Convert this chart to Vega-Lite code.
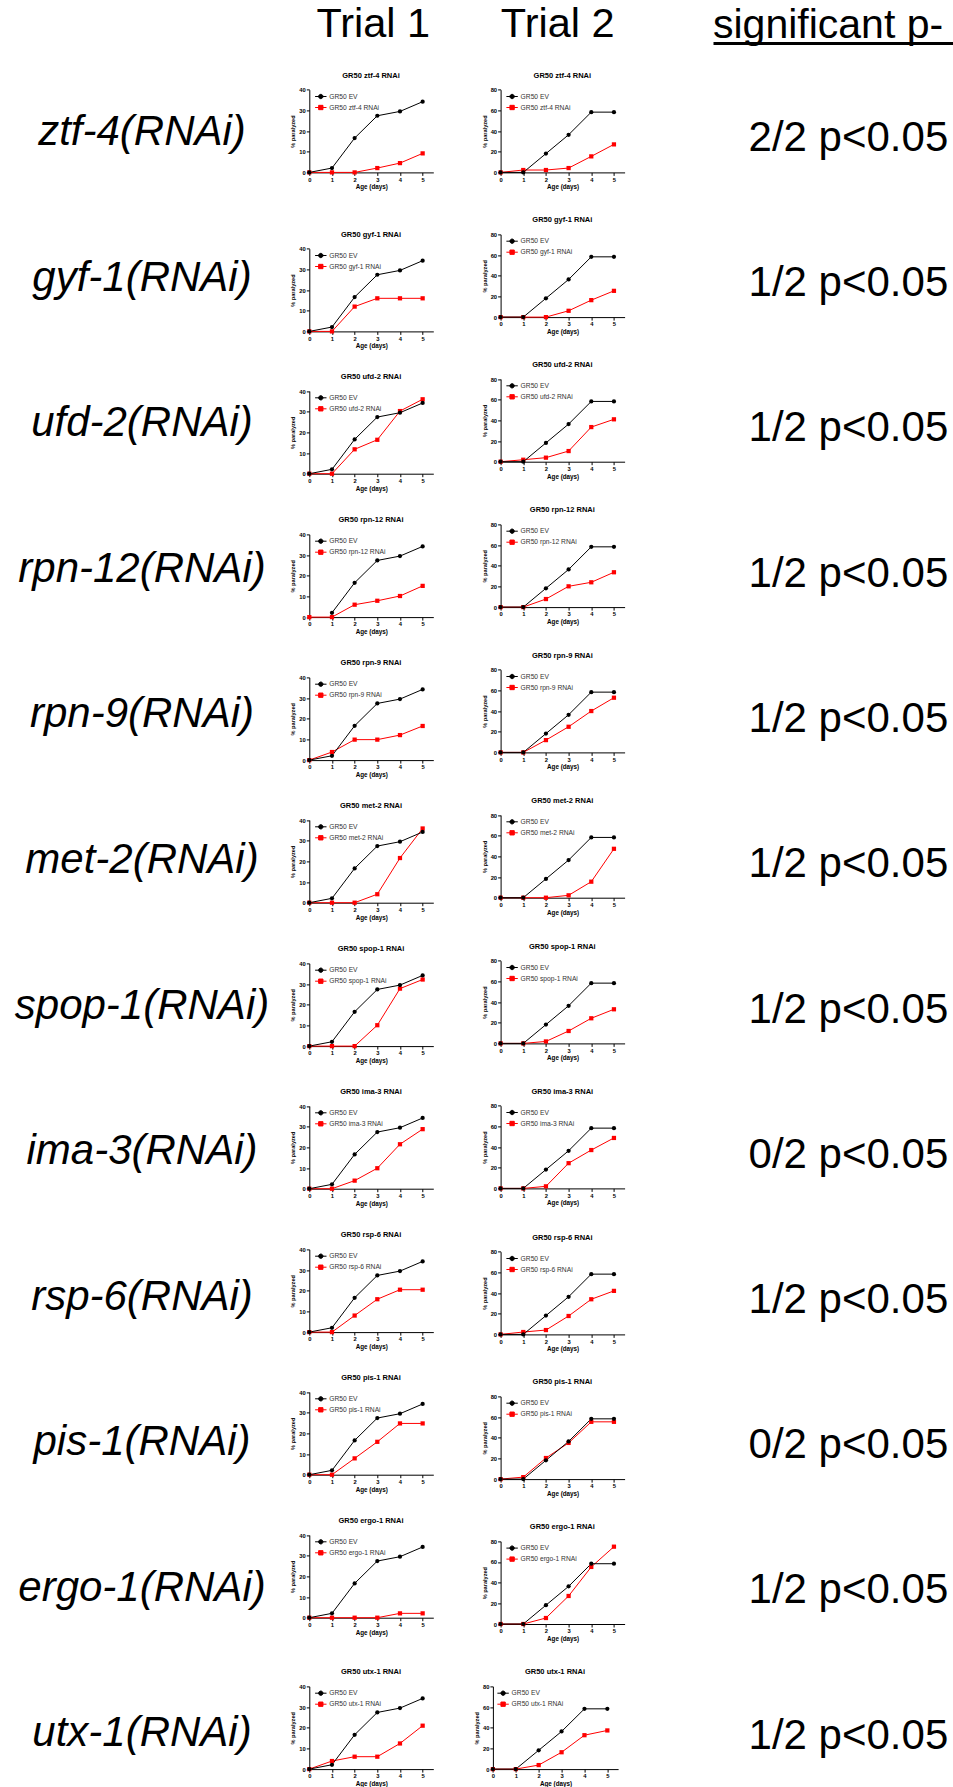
{
"$schema":"https://vega.github.io/schema/vega-lite/v6.json",
"padding":0,
"background":"white",
"config":{
 "view":{"stroke":null},
 "font":"Liberation Sans",
 "text":{"font":"Liberation Sans","fontSize":42,"color":"black"},
 "axis":{"labelFont":"Liberation Sans","titleFont":"Liberation Sans","labelFontSize":5.8,"labelFontWeight":"bold","labelColor":"black","tickSize":3,"tickColor":"black","tickWidth":1,"domainColor":"black","domainWidth":1,"grid":false,"titleFontWeight":"bold","titleColor":"black"},
 "axisX":{"titleFontSize":6.3,"titlePadding":2,"labelPadding":0.7,"labelFlush":false,"labelOverlap":false},
 "axisY":{"titleFontSize":5.6,"titlePadding":3,"labelPadding":1,"labelOverlap":false},
 "legend":{"orient":"none","padding":0,"rowPadding":0,"symbolSize":130,"labelFont":"Liberation Sans","labelFontSize":6.7,"labelColor":"#333333","labelOffset":2,"symbolStrokeWidth":1},
 "title":{"font":"Liberation Sans","fontSize":7.5,"fontWeight":"bold","color":"black","anchor":"middle","frame":"group","baseline":"alphabetic"}
},
"datasets":{"curves":[
{"gene":"ztf-4","trial":1,"series":"GR50 ztf-4 RNAi","day":0,"pct":0},{"gene":"ztf-4","trial":1,"series":"GR50 ztf-4 RNAi","day":1,"pct":0},{"gene":"ztf-4","trial":1,"series":"GR50 ztf-4 RNAi","day":2,"pct":0},{"gene":"ztf-4","trial":1,"series":"GR50 ztf-4 RNAi","day":3,"pct":2.1},{"gene":"ztf-4","trial":1,"series":"GR50 ztf-4 RNAi","day":4,"pct":4.5},{"gene":"ztf-4","trial":1,"series":"GR50 ztf-4 RNAi","day":5,"pct":9.2},
{"gene":"ztf-4","trial":1,"series":"GR50 EV","day":0,"pct":0},{"gene":"ztf-4","trial":1,"series":"GR50 EV","day":1,"pct":2.1},{"gene":"ztf-4","trial":1,"series":"GR50 EV","day":2,"pct":16.6},{"gene":"ztf-4","trial":1,"series":"GR50 EV","day":3,"pct":27.4},{"gene":"ztf-4","trial":1,"series":"GR50 EV","day":4,"pct":29.5},{"gene":"ztf-4","trial":1,"series":"GR50 EV","day":5,"pct":34.2},
{"gene":"ztf-4","trial":2,"series":"GR50 ztf-4 RNAi","day":0,"pct":0},{"gene":"ztf-4","trial":2,"series":"GR50 ztf-4 RNAi","day":1,"pct":2.3},{"gene":"ztf-4","trial":2,"series":"GR50 ztf-4 RNAi","day":2,"pct":2.3},{"gene":"ztf-4","trial":2,"series":"GR50 ztf-4 RNAi","day":3,"pct":4.2},{"gene":"ztf-4","trial":2,"series":"GR50 ztf-4 RNAi","day":4,"pct":15.5},{"gene":"ztf-4","trial":2,"series":"GR50 ztf-4 RNAi","day":5,"pct":27.1},
{"gene":"ztf-4","trial":2,"series":"GR50 EV","day":0,"pct":0},{"gene":"ztf-4","trial":2,"series":"GR50 EV","day":1,"pct":0},{"gene":"ztf-4","trial":2,"series":"GR50 EV","day":2,"pct":18.2},{"gene":"ztf-4","trial":2,"series":"GR50 EV","day":3,"pct":36.4},{"gene":"ztf-4","trial":2,"series":"GR50 EV","day":4,"pct":58.3},{"gene":"ztf-4","trial":2,"series":"GR50 EV","day":5,"pct":58.3},
{"gene":"gyf-1","trial":1,"series":"GR50 gyf-1 RNAi","day":0,"pct":0},{"gene":"gyf-1","trial":1,"series":"GR50 gyf-1 RNAi","day":1,"pct":0},{"gene":"gyf-1","trial":1,"series":"GR50 gyf-1 RNAi","day":2,"pct":12},{"gene":"gyf-1","trial":1,"series":"GR50 gyf-1 RNAi","day":3,"pct":16},{"gene":"gyf-1","trial":1,"series":"GR50 gyf-1 RNAi","day":4,"pct":16},{"gene":"gyf-1","trial":1,"series":"GR50 gyf-1 RNAi","day":5,"pct":16},
{"gene":"gyf-1","trial":1,"series":"GR50 EV","day":0,"pct":0},{"gene":"gyf-1","trial":1,"series":"GR50 EV","day":1,"pct":2.1},{"gene":"gyf-1","trial":1,"series":"GR50 EV","day":2,"pct":16.6},{"gene":"gyf-1","trial":1,"series":"GR50 EV","day":3,"pct":27.4},{"gene":"gyf-1","trial":1,"series":"GR50 EV","day":4,"pct":29.5},{"gene":"gyf-1","trial":1,"series":"GR50 EV","day":5,"pct":34.2},
{"gene":"gyf-1","trial":2,"series":"GR50 gyf-1 RNAi","day":0,"pct":0},{"gene":"gyf-1","trial":2,"series":"GR50 gyf-1 RNAi","day":1,"pct":0},{"gene":"gyf-1","trial":2,"series":"GR50 gyf-1 RNAi","day":2,"pct":0},{"gene":"gyf-1","trial":2,"series":"GR50 gyf-1 RNAi","day":3,"pct":6.1},{"gene":"gyf-1","trial":2,"series":"GR50 gyf-1 RNAi","day":4,"pct":16.4},{"gene":"gyf-1","trial":2,"series":"GR50 gyf-1 RNAi","day":5,"pct":25.4},
{"gene":"gyf-1","trial":2,"series":"GR50 EV","day":0,"pct":0},{"gene":"gyf-1","trial":2,"series":"GR50 EV","day":1,"pct":0},{"gene":"gyf-1","trial":2,"series":"GR50 EV","day":2,"pct":18.2},{"gene":"gyf-1","trial":2,"series":"GR50 EV","day":3,"pct":36.4},{"gene":"gyf-1","trial":2,"series":"GR50 EV","day":4,"pct":58.3},{"gene":"gyf-1","trial":2,"series":"GR50 EV","day":5,"pct":58.3},
{"gene":"ufd-2","trial":1,"series":"GR50 ufd-2 RNAi","day":0,"pct":0},{"gene":"ufd-2","trial":1,"series":"GR50 ufd-2 RNAi","day":1,"pct":0},{"gene":"ufd-2","trial":1,"series":"GR50 ufd-2 RNAi","day":2,"pct":11.8},{"gene":"ufd-2","trial":1,"series":"GR50 ufd-2 RNAi","day":3,"pct":16.4},{"gene":"ufd-2","trial":1,"series":"GR50 ufd-2 RNAi","day":4,"pct":30.3},{"gene":"ufd-2","trial":1,"series":"GR50 ufd-2 RNAi","day":5,"pct":36},
{"gene":"ufd-2","trial":1,"series":"GR50 EV","day":0,"pct":0},{"gene":"ufd-2","trial":1,"series":"GR50 EV","day":1,"pct":2.1},{"gene":"ufd-2","trial":1,"series":"GR50 EV","day":2,"pct":16.6},{"gene":"ufd-2","trial":1,"series":"GR50 EV","day":3,"pct":27.4},{"gene":"ufd-2","trial":1,"series":"GR50 EV","day":4,"pct":29.5},{"gene":"ufd-2","trial":1,"series":"GR50 EV","day":5,"pct":34.2},
{"gene":"ufd-2","trial":2,"series":"GR50 ufd-2 RNAi","day":0,"pct":0},{"gene":"ufd-2","trial":2,"series":"GR50 ufd-2 RNAi","day":1,"pct":1.9},{"gene":"ufd-2","trial":2,"series":"GR50 ufd-2 RNAi","day":2,"pct":3.9},{"gene":"ufd-2","trial":2,"series":"GR50 ufd-2 RNAi","day":3,"pct":10.3},{"gene":"ufd-2","trial":2,"series":"GR50 ufd-2 RNAi","day":4,"pct":33.5},{"gene":"ufd-2","trial":2,"series":"GR50 ufd-2 RNAi","day":5,"pct":41},
{"gene":"ufd-2","trial":2,"series":"GR50 EV","day":0,"pct":0},{"gene":"ufd-2","trial":2,"series":"GR50 EV","day":1,"pct":0},{"gene":"ufd-2","trial":2,"series":"GR50 EV","day":2,"pct":18.2},{"gene":"ufd-2","trial":2,"series":"GR50 EV","day":3,"pct":36.4},{"gene":"ufd-2","trial":2,"series":"GR50 EV","day":4,"pct":58.3},{"gene":"ufd-2","trial":2,"series":"GR50 EV","day":5,"pct":58.3},
{"gene":"rpn-12","trial":1,"series":"GR50 rpn-12 RNAi","day":0,"pct":0},{"gene":"rpn-12","trial":1,"series":"GR50 rpn-12 RNAi","day":1,"pct":0},{"gene":"rpn-12","trial":1,"series":"GR50 rpn-12 RNAi","day":2,"pct":6},{"gene":"rpn-12","trial":1,"series":"GR50 rpn-12 RNAi","day":3,"pct":7.9},{"gene":"rpn-12","trial":1,"series":"GR50 rpn-12 RNAi","day":4,"pct":10.2},{"gene":"rpn-12","trial":1,"series":"GR50 rpn-12 RNAi","day":5,"pct":15.1},
{"gene":"rpn-12","trial":1,"series":"GR50 EV","day":1,"pct":2.1},{"gene":"rpn-12","trial":1,"series":"GR50 EV","day":2,"pct":16.6},{"gene":"rpn-12","trial":1,"series":"GR50 EV","day":3,"pct":27.4},{"gene":"rpn-12","trial":1,"series":"GR50 EV","day":4,"pct":29.5},{"gene":"rpn-12","trial":1,"series":"GR50 EV","day":5,"pct":34.2},
{"gene":"rpn-12","trial":2,"series":"GR50 rpn-12 RNAi","day":0,"pct":0},{"gene":"rpn-12","trial":2,"series":"GR50 rpn-12 RNAi","day":1,"pct":0},{"gene":"rpn-12","trial":2,"series":"GR50 rpn-12 RNAi","day":2,"pct":7.8},{"gene":"rpn-12","trial":2,"series":"GR50 rpn-12 RNAi","day":3,"pct":20.1},{"gene":"rpn-12","trial":2,"series":"GR50 rpn-12 RNAi","day":4,"pct":24},{"gene":"rpn-12","trial":2,"series":"GR50 rpn-12 RNAi","day":5,"pct":33.7},
{"gene":"rpn-12","trial":2,"series":"GR50 EV","day":0,"pct":0},{"gene":"rpn-12","trial":2,"series":"GR50 EV","day":1,"pct":0},{"gene":"rpn-12","trial":2,"series":"GR50 EV","day":2,"pct":18.2},{"gene":"rpn-12","trial":2,"series":"GR50 EV","day":3,"pct":36.4},{"gene":"rpn-12","trial":2,"series":"GR50 EV","day":4,"pct":58.3},{"gene":"rpn-12","trial":2,"series":"GR50 EV","day":5,"pct":58.3},
{"gene":"rpn-9","trial":1,"series":"GR50 rpn-9 RNAi","day":0,"pct":0},{"gene":"rpn-9","trial":1,"series":"GR50 rpn-9 RNAi","day":1,"pct":3.9},{"gene":"rpn-9","trial":1,"series":"GR50 rpn-9 RNAi","day":2,"pct":9.9},{"gene":"rpn-9","trial":1,"series":"GR50 rpn-9 RNAi","day":3,"pct":9.9},{"gene":"rpn-9","trial":1,"series":"GR50 rpn-9 RNAi","day":4,"pct":12.1},{"gene":"rpn-9","trial":1,"series":"GR50 rpn-9 RNAi","day":5,"pct":16.5},
{"gene":"rpn-9","trial":1,"series":"GR50 EV","day":0,"pct":0},{"gene":"rpn-9","trial":1,"series":"GR50 EV","day":1,"pct":2.1},{"gene":"rpn-9","trial":1,"series":"GR50 EV","day":2,"pct":16.6},{"gene":"rpn-9","trial":1,"series":"GR50 EV","day":3,"pct":27.4},{"gene":"rpn-9","trial":1,"series":"GR50 EV","day":4,"pct":29.5},{"gene":"rpn-9","trial":1,"series":"GR50 EV","day":5,"pct":34.2},
{"gene":"rpn-9","trial":2,"series":"GR50 rpn-9 RNAi","day":0,"pct":0},{"gene":"rpn-9","trial":2,"series":"GR50 rpn-9 RNAi","day":1,"pct":0},{"gene":"rpn-9","trial":2,"series":"GR50 rpn-9 RNAi","day":2,"pct":11.9},{"gene":"rpn-9","trial":2,"series":"GR50 rpn-9 RNAi","day":3,"pct":24.8},{"gene":"rpn-9","trial":2,"series":"GR50 rpn-9 RNAi","day":4,"pct":40},{"gene":"rpn-9","trial":2,"series":"GR50 rpn-9 RNAi","day":5,"pct":52.9},
{"gene":"rpn-9","trial":2,"series":"GR50 EV","day":0,"pct":0},{"gene":"rpn-9","trial":2,"series":"GR50 EV","day":1,"pct":0},{"gene":"rpn-9","trial":2,"series":"GR50 EV","day":2,"pct":18.2},{"gene":"rpn-9","trial":2,"series":"GR50 EV","day":3,"pct":36.4},{"gene":"rpn-9","trial":2,"series":"GR50 EV","day":4,"pct":58.3},{"gene":"rpn-9","trial":2,"series":"GR50 EV","day":5,"pct":58.3},
{"gene":"met-2","trial":1,"series":"GR50 met-2 RNAi","day":0,"pct":0},{"gene":"met-2","trial":1,"series":"GR50 met-2 RNAi","day":1,"pct":0},{"gene":"met-2","trial":1,"series":"GR50 met-2 RNAi","day":2,"pct":0},{"gene":"met-2","trial":1,"series":"GR50 met-2 RNAi","day":3,"pct":4.1},{"gene":"met-2","trial":1,"series":"GR50 met-2 RNAi","day":4,"pct":21.6},{"gene":"met-2","trial":1,"series":"GR50 met-2 RNAi","day":5,"pct":35.9},
{"gene":"met-2","trial":1,"series":"GR50 EV","day":0,"pct":0},{"gene":"met-2","trial":1,"series":"GR50 EV","day":1,"pct":2.1},{"gene":"met-2","trial":1,"series":"GR50 EV","day":2,"pct":16.6},{"gene":"met-2","trial":1,"series":"GR50 EV","day":3,"pct":27.4},{"gene":"met-2","trial":1,"series":"GR50 EV","day":4,"pct":29.5},{"gene":"met-2","trial":1,"series":"GR50 EV","day":5,"pct":34.2},
{"gene":"met-2","trial":2,"series":"GR50 met-2 RNAi","day":0,"pct":0},{"gene":"met-2","trial":2,"series":"GR50 met-2 RNAi","day":1,"pct":0},{"gene":"met-2","trial":2,"series":"GR50 met-2 RNAi","day":2,"pct":0},{"gene":"met-2","trial":2,"series":"GR50 met-2 RNAi","day":3,"pct":2.3},{"gene":"met-2","trial":2,"series":"GR50 met-2 RNAi","day":4,"pct":15.5},{"gene":"met-2","trial":2,"series":"GR50 met-2 RNAi","day":5,"pct":47.3},
{"gene":"met-2","trial":2,"series":"GR50 EV","day":0,"pct":0},{"gene":"met-2","trial":2,"series":"GR50 EV","day":1,"pct":0},{"gene":"met-2","trial":2,"series":"GR50 EV","day":2,"pct":18.2},{"gene":"met-2","trial":2,"series":"GR50 EV","day":3,"pct":36.4},{"gene":"met-2","trial":2,"series":"GR50 EV","day":4,"pct":58.3},{"gene":"met-2","trial":2,"series":"GR50 EV","day":5,"pct":58.3},
{"gene":"spop-1","trial":1,"series":"GR50 spop-1 RNAi","day":0,"pct":0},{"gene":"spop-1","trial":1,"series":"GR50 spop-1 RNAi","day":1,"pct":0},{"gene":"spop-1","trial":1,"series":"GR50 spop-1 RNAi","day":2,"pct":0},{"gene":"spop-1","trial":1,"series":"GR50 spop-1 RNAi","day":3,"pct":10.1},{"gene":"spop-1","trial":1,"series":"GR50 spop-1 RNAi","day":4,"pct":27.8},{"gene":"spop-1","trial":1,"series":"GR50 spop-1 RNAi","day":5,"pct":32.2},
{"gene":"spop-1","trial":1,"series":"GR50 EV","day":0,"pct":0},{"gene":"spop-1","trial":1,"series":"GR50 EV","day":1,"pct":2.1},{"gene":"spop-1","trial":1,"series":"GR50 EV","day":2,"pct":16.6},{"gene":"spop-1","trial":1,"series":"GR50 EV","day":3,"pct":27.4},{"gene":"spop-1","trial":1,"series":"GR50 EV","day":4,"pct":29.5},{"gene":"spop-1","trial":1,"series":"GR50 EV","day":5,"pct":34.2},
{"gene":"spop-1","trial":2,"series":"GR50 spop-1 RNAi","day":0,"pct":0},{"gene":"spop-1","trial":2,"series":"GR50 spop-1 RNAi","day":1,"pct":0},{"gene":"spop-1","trial":2,"series":"GR50 spop-1 RNAi","day":2,"pct":1.9},{"gene":"spop-1","trial":2,"series":"GR50 spop-1 RNAi","day":3,"pct":12},{"gene":"spop-1","trial":2,"series":"GR50 spop-1 RNAi","day":4,"pct":24.3},{"gene":"spop-1","trial":2,"series":"GR50 spop-1 RNAi","day":5,"pct":33},
{"gene":"spop-1","trial":2,"series":"GR50 EV","day":0,"pct":0},{"gene":"spop-1","trial":2,"series":"GR50 EV","day":1,"pct":0},{"gene":"spop-1","trial":2,"series":"GR50 EV","day":2,"pct":18.2},{"gene":"spop-1","trial":2,"series":"GR50 EV","day":3,"pct":36.4},{"gene":"spop-1","trial":2,"series":"GR50 EV","day":4,"pct":58.3},{"gene":"spop-1","trial":2,"series":"GR50 EV","day":5,"pct":58.3},
{"gene":"ima-3","trial":1,"series":"GR50 ima-3 RNAi","day":0,"pct":0},{"gene":"ima-3","trial":1,"series":"GR50 ima-3 RNAi","day":1,"pct":0},{"gene":"ima-3","trial":1,"series":"GR50 ima-3 RNAi","day":2,"pct":3.9},{"gene":"ima-3","trial":1,"series":"GR50 ima-3 RNAi","day":3,"pct":9.9},{"gene":"ima-3","trial":1,"series":"GR50 ima-3 RNAi","day":4,"pct":21.5},{"gene":"ima-3","trial":1,"series":"GR50 ima-3 RNAi","day":5,"pct":28.8},
{"gene":"ima-3","trial":1,"series":"GR50 EV","day":0,"pct":0},{"gene":"ima-3","trial":1,"series":"GR50 EV","day":1,"pct":2.1},{"gene":"ima-3","trial":1,"series":"GR50 EV","day":2,"pct":16.6},{"gene":"ima-3","trial":1,"series":"GR50 EV","day":3,"pct":27.4},{"gene":"ima-3","trial":1,"series":"GR50 EV","day":4,"pct":29.5},{"gene":"ima-3","trial":1,"series":"GR50 EV","day":5,"pct":34.2},
{"gene":"ima-3","trial":2,"series":"GR50 ima-3 RNAi","day":0,"pct":0},{"gene":"ima-3","trial":2,"series":"GR50 ima-3 RNAi","day":1,"pct":0},{"gene":"ima-3","trial":2,"series":"GR50 ima-3 RNAi","day":2,"pct":2},{"gene":"ima-3","trial":2,"series":"GR50 ima-3 RNAi","day":3,"pct":24.4},{"gene":"ima-3","trial":2,"series":"GR50 ima-3 RNAi","day":4,"pct":37.1},{"gene":"ima-3","trial":2,"series":"GR50 ima-3 RNAi","day":5,"pct":48.8},
{"gene":"ima-3","trial":2,"series":"GR50 EV","day":0,"pct":0},{"gene":"ima-3","trial":2,"series":"GR50 EV","day":1,"pct":0},{"gene":"ima-3","trial":2,"series":"GR50 EV","day":2,"pct":18.2},{"gene":"ima-3","trial":2,"series":"GR50 EV","day":3,"pct":36.4},{"gene":"ima-3","trial":2,"series":"GR50 EV","day":4,"pct":58.3},{"gene":"ima-3","trial":2,"series":"GR50 EV","day":5,"pct":58.3},
{"gene":"rsp-6","trial":1,"series":"GR50 rsp-6 RNAi","day":0,"pct":0},{"gene":"rsp-6","trial":1,"series":"GR50 rsp-6 RNAi","day":1,"pct":0},{"gene":"rsp-6","trial":1,"series":"GR50 rsp-6 RNAi","day":2,"pct":8},{"gene":"rsp-6","trial":1,"series":"GR50 rsp-6 RNAi","day":3,"pct":15.9},{"gene":"rsp-6","trial":1,"series":"GR50 rsp-6 RNAi","day":4,"pct":20.5},{"gene":"rsp-6","trial":1,"series":"GR50 rsp-6 RNAi","day":5,"pct":20.5},
{"gene":"rsp-6","trial":1,"series":"GR50 EV","day":0,"pct":0},{"gene":"rsp-6","trial":1,"series":"GR50 EV","day":1,"pct":2.1},{"gene":"rsp-6","trial":1,"series":"GR50 EV","day":2,"pct":16.6},{"gene":"rsp-6","trial":1,"series":"GR50 EV","day":3,"pct":27.4},{"gene":"rsp-6","trial":1,"series":"GR50 EV","day":4,"pct":29.5},{"gene":"rsp-6","trial":1,"series":"GR50 EV","day":5,"pct":34.2},
{"gene":"rsp-6","trial":2,"series":"GR50 rsp-6 RNAi","day":0,"pct":0},{"gene":"rsp-6","trial":2,"series":"GR50 rsp-6 RNAi","day":1,"pct":2.3},{"gene":"rsp-6","trial":2,"series":"GR50 rsp-6 RNAi","day":2,"pct":4.2},{"gene":"rsp-6","trial":2,"series":"GR50 rsp-6 RNAi","day":3,"pct":17.8},{"gene":"rsp-6","trial":2,"series":"GR50 rsp-6 RNAi","day":4,"pct":34},{"gene":"rsp-6","trial":2,"series":"GR50 rsp-6 RNAi","day":5,"pct":42.1},
{"gene":"rsp-6","trial":2,"series":"GR50 EV","day":0,"pct":0},{"gene":"rsp-6","trial":2,"series":"GR50 EV","day":1,"pct":0},{"gene":"rsp-6","trial":2,"series":"GR50 EV","day":2,"pct":18.2},{"gene":"rsp-6","trial":2,"series":"GR50 EV","day":3,"pct":36.4},{"gene":"rsp-6","trial":2,"series":"GR50 EV","day":4,"pct":58.3},{"gene":"rsp-6","trial":2,"series":"GR50 EV","day":5,"pct":58.3},
{"gene":"pis-1","trial":1,"series":"GR50 pis-1 RNAi","day":0,"pct":0},{"gene":"pis-1","trial":1,"series":"GR50 pis-1 RNAi","day":1,"pct":0},{"gene":"pis-1","trial":1,"series":"GR50 pis-1 RNAi","day":2,"pct":7.9},{"gene":"pis-1","trial":1,"series":"GR50 pis-1 RNAi","day":3,"pct":15.9},{"gene":"pis-1","trial":1,"series":"GR50 pis-1 RNAi","day":4,"pct":24.8},{"gene":"pis-1","trial":1,"series":"GR50 pis-1 RNAi","day":5,"pct":24.8},
{"gene":"pis-1","trial":1,"series":"GR50 EV","day":0,"pct":0},{"gene":"pis-1","trial":1,"series":"GR50 EV","day":1,"pct":2.1},{"gene":"pis-1","trial":1,"series":"GR50 EV","day":2,"pct":16.6},{"gene":"pis-1","trial":1,"series":"GR50 EV","day":3,"pct":27.4},{"gene":"pis-1","trial":1,"series":"GR50 EV","day":4,"pct":29.5},{"gene":"pis-1","trial":1,"series":"GR50 EV","day":5,"pct":34.2},
{"gene":"pis-1","trial":2,"series":"GR50 pis-1 RNAi","day":0,"pct":0},{"gene":"pis-1","trial":2,"series":"GR50 pis-1 RNAi","day":1,"pct":1.9},{"gene":"pis-1","trial":2,"series":"GR50 pis-1 RNAi","day":2,"pct":20.4},{"gene":"pis-1","trial":2,"series":"GR50 pis-1 RNAi","day":3,"pct":35},{"gene":"pis-1","trial":2,"series":"GR50 pis-1 RNAi","day":4,"pct":55.4},{"gene":"pis-1","trial":2,"series":"GR50 pis-1 RNAi","day":5,"pct":55.4},
{"gene":"pis-1","trial":2,"series":"GR50 EV","day":0,"pct":0},{"gene":"pis-1","trial":2,"series":"GR50 EV","day":1,"pct":0},{"gene":"pis-1","trial":2,"series":"GR50 EV","day":2,"pct":18.2},{"gene":"pis-1","trial":2,"series":"GR50 EV","day":3,"pct":36.4},{"gene":"pis-1","trial":2,"series":"GR50 EV","day":4,"pct":58.3},{"gene":"pis-1","trial":2,"series":"GR50 EV","day":5,"pct":58.3},
{"gene":"ergo-1","trial":1,"series":"GR50 ergo-1 RNAi","day":0,"pct":0},{"gene":"ergo-1","trial":1,"series":"GR50 ergo-1 RNAi","day":1,"pct":0},{"gene":"ergo-1","trial":1,"series":"GR50 ergo-1 RNAi","day":2,"pct":0},{"gene":"ergo-1","trial":1,"series":"GR50 ergo-1 RNAi","day":3,"pct":0},{"gene":"ergo-1","trial":1,"series":"GR50 ergo-1 RNAi","day":4,"pct":2.1},{"gene":"ergo-1","trial":1,"series":"GR50 ergo-1 RNAi","day":5,"pct":2.1},
{"gene":"ergo-1","trial":1,"series":"GR50 EV","day":0,"pct":0},{"gene":"ergo-1","trial":1,"series":"GR50 EV","day":1,"pct":2.1},{"gene":"ergo-1","trial":1,"series":"GR50 EV","day":2,"pct":16.6},{"gene":"ergo-1","trial":1,"series":"GR50 EV","day":3,"pct":27.4},{"gene":"ergo-1","trial":1,"series":"GR50 EV","day":4,"pct":29.5},{"gene":"ergo-1","trial":1,"series":"GR50 EV","day":5,"pct":34.2},
{"gene":"ergo-1","trial":2,"series":"GR50 ergo-1 RNAi","day":0,"pct":0},{"gene":"ergo-1","trial":2,"series":"GR50 ergo-1 RNAi","day":1,"pct":0},{"gene":"ergo-1","trial":2,"series":"GR50 ergo-1 RNAi","day":2,"pct":5.8},{"gene":"ergo-1","trial":2,"series":"GR50 ergo-1 RNAi","day":3,"pct":27.1},{"gene":"ergo-1","trial":2,"series":"GR50 ergo-1 RNAi","day":4,"pct":55.2},{"gene":"ergo-1","trial":2,"series":"GR50 ergo-1 RNAi","day":5,"pct":74.8},
{"gene":"ergo-1","trial":2,"series":"GR50 EV","day":0,"pct":0},{"gene":"ergo-1","trial":2,"series":"GR50 EV","day":1,"pct":0},{"gene":"ergo-1","trial":2,"series":"GR50 EV","day":2,"pct":18.2},{"gene":"ergo-1","trial":2,"series":"GR50 EV","day":3,"pct":36.4},{"gene":"ergo-1","trial":2,"series":"GR50 EV","day":4,"pct":58.3},{"gene":"ergo-1","trial":2,"series":"GR50 EV","day":5,"pct":58.3},
{"gene":"utx-1","trial":1,"series":"GR50 utx-1 RNAi","day":0,"pct":0},{"gene":"utx-1","trial":1,"series":"GR50 utx-1 RNAi","day":1,"pct":3.9},{"gene":"utx-1","trial":1,"series":"GR50 utx-1 RNAi","day":2,"pct":6},{"gene":"utx-1","trial":1,"series":"GR50 utx-1 RNAi","day":3,"pct":6},{"gene":"utx-1","trial":1,"series":"GR50 utx-1 RNAi","day":4,"pct":12.4},{"gene":"utx-1","trial":1,"series":"GR50 utx-1 RNAi","day":5,"pct":21},
{"gene":"utx-1","trial":1,"series":"GR50 EV","day":0,"pct":0},{"gene":"utx-1","trial":1,"series":"GR50 EV","day":1,"pct":2.1},{"gene":"utx-1","trial":1,"series":"GR50 EV","day":2,"pct":16.6},{"gene":"utx-1","trial":1,"series":"GR50 EV","day":3,"pct":27.4},{"gene":"utx-1","trial":1,"series":"GR50 EV","day":4,"pct":29.5},{"gene":"utx-1","trial":1,"series":"GR50 EV","day":5,"pct":34.2},
{"gene":"utx-1","trial":2,"series":"GR50 utx-1 RNAi","day":0,"pct":0},{"gene":"utx-1","trial":2,"series":"GR50 utx-1 RNAi","day":1,"pct":0},{"gene":"utx-1","trial":2,"series":"GR50 utx-1 RNAi","day":2,"pct":3.9},{"gene":"utx-1","trial":2,"series":"GR50 utx-1 RNAi","day":3,"pct":16.3},{"gene":"utx-1","trial":2,"series":"GR50 utx-1 RNAi","day":4,"pct":32.8},{"gene":"utx-1","trial":2,"series":"GR50 utx-1 RNAi","day":5,"pct":37.4},
{"gene":"utx-1","trial":2,"series":"GR50 EV","day":0,"pct":0},{"gene":"utx-1","trial":2,"series":"GR50 EV","day":1,"pct":0},{"gene":"utx-1","trial":2,"series":"GR50 EV","day":2,"pct":18.2},{"gene":"utx-1","trial":2,"series":"GR50 EV","day":3,"pct":36.4},{"gene":"utx-1","trial":2,"series":"GR50 EV","day":4,"pct":58.3},{"gene":"utx-1","trial":2,"series":"GR50 EV","day":5,"pct":58.3}
]},
"spacing":17.4,
"vconcat":[
{"hconcat":[
 {"width":343.7,"height":50.6,"data":{"values":[{"t":""}]},"mark":{"type":"text"},"encoding":{"text":{"field":"t"}}},
 {"width":58.6,"height":50.6,"data":{"values":[{"t":"Trial 1"}]},"mark":{"type":"text","align":"center","baseline":"middle","fontSize":41.5},"encoding":{"text":{"field":"t"}}},
 {"width":309.4,"height":50.6,"data":{"values":[{"t":"Trial 2"}]},"mark":{"type":"text","align":"center","baseline":"middle","fontSize":41.5},"encoding":{"text":{"field":"t"}}},
 {"width":241.3,"height":43,"data":{"values":[{"t":"significant p-value"}]},"mark":{"type":"text","align":"left","baseline":"line-top","lineHeight":8,"fontSize":41,"limit":241,"ellipsis":"\u200b"},"encoding":{"text":{"field":"t"},"x":{"datum":0,"type":"quantitative","scale":{"domain":[0,1],"nice":false,"zero":false},"axis":{"domain":true,"domainWidth":3,"domainColor":"black","domainCap":"butt","labels":false,"ticks":false,"title":null,"grid":false}}}}
],"spacing":0,"bounds":"flush"},
{"columns":4,"align":"none","bounds":"flush","spacing":{"row":44,"column":25.3},
"resolve":{"scale":{"color":"independent","x":"independent","y":"independent"},"legend":{"color":"independent"}},
"concat":[
{"width":284,"height":88,"data":{"values":[{"t":"ztf-4(RNAi)"}]},"mark":{"type":"text","align":"center","baseline":"top","fontStyle":"italic"},"encoding":{"text":{"field":"t"}}},
{"width":165.4,"height":104,"data":{"name":"curves"},"transform":[{"filter":"datum.gene==='ztf-4'&&datum.trial===1"}],"title":{"text":"GR50 ztf-4 RNAi","dx":-21,"offset":-10.7},"encoding":{"x":{"field":"day","type":"quantitative","scale":{"domain":[0,5.47],"range":[0,124],"nice":false,"zero":false},"axis":{"values":[0,1,2,3,4,5],"title":"Age (days)"}},"y":{"field":"pct","type":"quantitative","scale":{"domain":[0,40],"range":[104,21.3],"nice":false},"axis":{"values":[0,10,20,30,40],"title":"% paralyzed"}},"color":{"field":"series","type":"nominal","scale":{"domain":["GR50 EV","GR50 ztf-4 RNAi"],"range":["#000000","#ff0000"]},"legend":{"title":null,"legendX":5,"legendY":21.6,"encode":{"symbols":{"update":{"shape":{"signal":"datum.value==='GR50 EV'?'M-1,0L1,0M-0.38,0A0.38,0.38 0 1,0 0.38,0A0.38,0.38 0 1,0 -0.38,0Z':'M-1,0L1,0M-0.38,-0.38L0.38,-0.38L0.38,0.38L-0.38,0.38Z'"},"fill":{"signal":"datum.value==='GR50 EV'?'#000000':'#ff0000'"},"stroke":{"signal":"datum.value==='GR50 EV'?'#000000':'#ff0000'"},"strokeWidth":{"value":1},"opacity":{"value":1}}}}}}},"layer":[{"mark":{"type":"line","strokeWidth":1}},{"transform":[{"filter":"datum.series!=='GR50 EV'"}],"mark":{"type":"point","filled":true,"size":18,"opacity":1,"shape":"square"}},{"transform":[{"filter":"datum.series==='GR50 EV'"}],"mark":{"type":"point","filled":true,"size":18,"opacity":1,"shape":"circle"}}]},
{"width":224.7,"height":104,"data":{"name":"curves"},"transform":[{"filter":"datum.gene==='ztf-4'&&datum.trial===2"}],"title":{"text":"GR50 ztf-4 RNAi","dx":-50.6,"offset":-10.7},"encoding":{"x":{"field":"day","type":"quantitative","scale":{"domain":[0,5.47],"range":[0,124],"nice":false,"zero":false},"axis":{"values":[0,1,2,3,4,5],"title":"Age (days)"}},"y":{"field":"pct","type":"quantitative","scale":{"domain":[0,80],"range":[104,21.3],"nice":false},"axis":{"values":[0,20,40,60,80],"title":"% paralyzed"}},"color":{"field":"series","type":"nominal","scale":{"domain":["GR50 EV","GR50 ztf-4 RNAi"],"range":["#000000","#ff0000"]},"legend":{"title":null,"legendX":5,"legendY":21.6,"encode":{"symbols":{"update":{"shape":{"signal":"datum.value==='GR50 EV'?'M-1,0L1,0M-0.38,0A0.38,0.38 0 1,0 0.38,0A0.38,0.38 0 1,0 -0.38,0Z':'M-1,0L1,0M-0.38,-0.38L0.38,-0.38L0.38,0.38L-0.38,0.38Z'"},"fill":{"signal":"datum.value==='GR50 EV'?'#000000':'#ff0000'"},"stroke":{"signal":"datum.value==='GR50 EV'?'#000000':'#ff0000'"},"strokeWidth":{"value":1},"opacity":{"value":1}}}}}}},"layer":[{"mark":{"type":"line","strokeWidth":1}},{"transform":[{"filter":"datum.series!=='GR50 EV'"}],"mark":{"type":"point","filled":true,"size":18,"opacity":1,"shape":"square"}},{"transform":[{"filter":"datum.series==='GR50 EV'"}],"mark":{"type":"point","filled":true,"size":18,"opacity":1,"shape":"circle"}}]},
{"width":195,"height":89.4,"data":{"values":[{"t":"2/2 p<0.05"}]},"mark":{"type":"text","align":"center","baseline":"line-top","lineHeight":52},"encoding":{"text":{"field":"t"}}},

{"width":284,"height":82.4,"data":{"values":[{"t":"gyf-1(RNAi)"}]},"mark":{"type":"text","align":"center","baseline":"top","fontStyle":"italic"},"encoding":{"text":{"field":"t"}}},
{"width":165.4,"height":115,"data":{"name":"curves"},"transform":[{"filter":"datum.gene==='gyf-1'&&datum.trial===1"}],"title":{"text":"GR50 gyf-1 RNAi","dx":-21,"offset":-21.7},"encoding":{"x":{"field":"day","type":"quantitative","scale":{"domain":[0,5.47],"range":[0,124],"nice":false,"zero":false},"axis":{"values":[0,1,2,3,4,5],"title":"Age (days)"}},"y":{"field":"pct","type":"quantitative","scale":{"domain":[0,40],"range":[115,32.3],"nice":false},"axis":{"values":[0,10,20,30,40],"title":"% paralyzed"}},"color":{"field":"series","type":"nominal","scale":{"domain":["GR50 EV","GR50 gyf-1 RNAi"],"range":["#000000","#ff0000"]},"legend":{"title":null,"legendX":5,"legendY":32.6,"encode":{"symbols":{"update":{"shape":{"signal":"datum.value==='GR50 EV'?'M-1,0L1,0M-0.38,0A0.38,0.38 0 1,0 0.38,0A0.38,0.38 0 1,0 -0.38,0Z':'M-1,0L1,0M-0.38,-0.38L0.38,-0.38L0.38,0.38L-0.38,0.38Z'"},"fill":{"signal":"datum.value==='GR50 EV'?'#000000':'#ff0000'"},"stroke":{"signal":"datum.value==='GR50 EV'?'#000000':'#ff0000'"},"strokeWidth":{"value":1},"opacity":{"value":1}}}}}}},"layer":[{"mark":{"type":"line","strokeWidth":1}},{"transform":[{"filter":"datum.series!=='GR50 EV'"}],"mark":{"type":"point","filled":true,"size":18,"opacity":1,"shape":"square"}},{"transform":[{"filter":"datum.series==='GR50 EV'"}],"mark":{"type":"point","filled":true,"size":18,"opacity":1,"shape":"circle"}}]},
{"width":224.7,"height":100.7,"data":{"name":"curves"},"transform":[{"filter":"datum.gene==='gyf-1'&&datum.trial===2"}],"title":{"text":"GR50 gyf-1 RNAi","dx":-50.6,"offset":-7.4},"encoding":{"x":{"field":"day","type":"quantitative","scale":{"domain":[0,5.47],"range":[0,124],"nice":false,"zero":false},"axis":{"values":[0,1,2,3,4,5],"title":"Age (days)"}},"y":{"field":"pct","type":"quantitative","scale":{"domain":[0,80],"range":[100.7,18],"nice":false},"axis":{"values":[0,20,40,60,80],"title":"% paralyzed"}},"color":{"field":"series","type":"nominal","scale":{"domain":["GR50 EV","GR50 gyf-1 RNAi"],"range":["#000000","#ff0000"]},"legend":{"title":null,"legendX":5,"legendY":18.3,"encode":{"symbols":{"update":{"shape":{"signal":"datum.value==='GR50 EV'?'M-1,0L1,0M-0.38,0A0.38,0.38 0 1,0 0.38,0A0.38,0.38 0 1,0 -0.38,0Z':'M-1,0L1,0M-0.38,-0.38L0.38,-0.38L0.38,0.38L-0.38,0.38Z'"},"fill":{"signal":"datum.value==='GR50 EV'?'#000000':'#ff0000'"},"stroke":{"signal":"datum.value==='GR50 EV'?'#000000':'#ff0000'"},"strokeWidth":{"value":1},"opacity":{"value":1}}}}}}},"layer":[{"mark":{"type":"line","strokeWidth":1}},{"transform":[{"filter":"datum.series!=='GR50 EV'"}],"mark":{"type":"point","filled":true,"size":18,"opacity":1,"shape":"square"}},{"transform":[{"filter":"datum.series==='GR50 EV'"}],"mark":{"type":"point","filled":true,"size":18,"opacity":1,"shape":"circle"}}]},
{"width":195,"height":83.2,"data":{"values":[{"t":"1/2 p<0.05"}]},"mark":{"type":"text","align":"center","baseline":"line-top","lineHeight":52},"encoding":{"text":{"field":"t"}}},

{"width":284,"height":54.8,"data":{"values":[{"t":"ufd-2(RNAi)"}]},"mark":{"type":"text","align":"center","baseline":"top","fontStyle":"italic"},"encoding":{"text":{"field":"t"}}},
{"width":165.4,"height":98.3,"data":{"name":"curves"},"transform":[{"filter":"datum.gene==='ufd-2'&&datum.trial===1"}],"title":{"text":"GR50 ufd-2 RNAi","dx":-21,"offset":-5},"encoding":{"x":{"field":"day","type":"quantitative","scale":{"domain":[0,5.47],"range":[0,124],"nice":false,"zero":false},"axis":{"values":[0,1,2,3,4,5],"title":"Age (days)"}},"y":{"field":"pct","type":"quantitative","scale":{"domain":[0,40],"range":[98.3,15.6],"nice":false},"axis":{"values":[0,10,20,30,40],"title":"% paralyzed"}},"color":{"field":"series","type":"nominal","scale":{"domain":["GR50 EV","GR50 ufd-2 RNAi"],"range":["#000000","#ff0000"]},"legend":{"title":null,"legendX":5,"legendY":15.9,"encode":{"symbols":{"update":{"shape":{"signal":"datum.value==='GR50 EV'?'M-1,0L1,0M-0.38,0A0.38,0.38 0 1,0 0.38,0A0.38,0.38 0 1,0 -0.38,0Z':'M-1,0L1,0M-0.38,-0.38L0.38,-0.38L0.38,0.38L-0.38,0.38Z'"},"fill":{"signal":"datum.value==='GR50 EV'?'#000000':'#ff0000'"},"stroke":{"signal":"datum.value==='GR50 EV'?'#000000':'#ff0000'"},"strokeWidth":{"value":1},"opacity":{"value":1}}}}}}},"layer":[{"mark":{"type":"line","strokeWidth":1}},{"transform":[{"filter":"datum.series!=='GR50 EV'"}],"mark":{"type":"point","filled":true,"size":18,"opacity":1,"shape":"square"}},{"transform":[{"filter":"datum.series==='GR50 EV'"}],"mark":{"type":"point","filled":true,"size":18,"opacity":1,"shape":"circle"}}]},
{"width":224.7,"height":86.3,"data":{"name":"curves"},"transform":[{"filter":"datum.gene==='ufd-2'&&datum.trial===2"}],"title":{"text":"GR50 ufd-2 RNAi","dx":-50.6,"offset":7},"encoding":{"x":{"field":"day","type":"quantitative","scale":{"domain":[0,5.47],"range":[0,124],"nice":false,"zero":false},"axis":{"values":[0,1,2,3,4,5],"title":"Age (days)"}},"y":{"field":"pct","type":"quantitative","scale":{"domain":[0,80],"range":[86.3,3.6],"nice":false},"axis":{"values":[0,20,40,60,80],"title":"% paralyzed"}},"color":{"field":"series","type":"nominal","scale":{"domain":["GR50 EV","GR50 ufd-2 RNAi"],"range":["#000000","#ff0000"]},"legend":{"title":null,"legendX":5,"legendY":3.9,"encode":{"symbols":{"update":{"shape":{"signal":"datum.value==='GR50 EV'?'M-1,0L1,0M-0.38,0A0.38,0.38 0 1,0 0.38,0A0.38,0.38 0 1,0 -0.38,0Z':'M-1,0L1,0M-0.38,-0.38L0.38,-0.38L0.38,0.38L-0.38,0.38Z'"},"fill":{"signal":"datum.value==='GR50 EV'?'#000000':'#ff0000'"},"stroke":{"signal":"datum.value==='GR50 EV'?'#000000':'#ff0000'"},"strokeWidth":{"value":1},"opacity":{"value":1}}}}}}},"layer":[{"mark":{"type":"line","strokeWidth":1}},{"transform":[{"filter":"datum.series!=='GR50 EV'"}],"mark":{"type":"point","filled":true,"size":18,"opacity":1,"shape":"square"}},{"transform":[{"filter":"datum.series==='GR50 EV'"}],"mark":{"type":"point","filled":true,"size":18,"opacity":1,"shape":"circle"}}]},
{"width":195,"height":55,"data":{"values":[{"t":"1/2 p<0.05"}]},"mark":{"type":"text","align":"center","baseline":"line-top","lineHeight":52},"encoding":{"text":{"field":"t"}}},

{"width":284,"height":60.6,"data":{"values":[{"t":"rpn-12(RNAi)"}]},"mark":{"type":"text","align":"center","baseline":"top","fontStyle":"italic"},"encoding":{"text":{"field":"t"}}},
{"width":165.4,"height":98.7,"data":{"name":"curves"},"transform":[{"filter":"datum.gene==='rpn-12'&&datum.trial===1"}],"title":{"text":"GR50 rpn-12 RNAi","dx":-21,"offset":-5.4},"encoding":{"x":{"field":"day","type":"quantitative","scale":{"domain":[0,5.47],"range":[0,124],"nice":false,"zero":false},"axis":{"values":[0,1,2,3,4,5],"title":"Age (days)"}},"y":{"field":"pct","type":"quantitative","scale":{"domain":[0,40],"range":[98.7,16],"nice":false},"axis":{"values":[0,10,20,30,40],"title":"% paralyzed"}},"color":{"field":"series","type":"nominal","scale":{"domain":["GR50 EV","GR50 rpn-12 RNAi"],"range":["#000000","#ff0000"]},"legend":{"title":null,"legendX":5,"legendY":16.3,"encode":{"symbols":{"update":{"shape":{"signal":"datum.value==='GR50 EV'?'M-1,0L1,0M-0.38,0A0.38,0.38 0 1,0 0.38,0A0.38,0.38 0 1,0 -0.38,0Z':'M-1,0L1,0M-0.38,-0.38L0.38,-0.38L0.38,0.38L-0.38,0.38Z'"},"fill":{"signal":"datum.value==='GR50 EV'?'#000000':'#ff0000'"},"stroke":{"signal":"datum.value==='GR50 EV'?'#000000':'#ff0000'"},"strokeWidth":{"value":1},"opacity":{"value":1}}}}}}},"layer":[{"mark":{"type":"line","strokeWidth":1}},{"transform":[{"filter":"datum.series!=='GR50 EV'"}],"mark":{"type":"point","filled":true,"size":18,"opacity":1,"shape":"square"}},{"transform":[{"filter":"datum.series==='GR50 EV'"}],"mark":{"type":"point","filled":true,"size":18,"opacity":1,"shape":"circle"}}]},
{"width":224.7,"height":88.7,"data":{"name":"curves"},"transform":[{"filter":"datum.gene==='rpn-12'&&datum.trial===2"}],"title":{"text":"GR50 rpn-12 RNAi","dx":-50.6,"offset":4.6},"encoding":{"x":{"field":"day","type":"quantitative","scale":{"domain":[0,5.47],"range":[0,124],"nice":false,"zero":false},"axis":{"values":[0,1,2,3,4,5],"title":"Age (days)"}},"y":{"field":"pct","type":"quantitative","scale":{"domain":[0,80],"range":[88.7,6],"nice":false},"axis":{"values":[0,20,40,60,80],"title":"% paralyzed"}},"color":{"field":"series","type":"nominal","scale":{"domain":["GR50 EV","GR50 rpn-12 RNAi"],"range":["#000000","#ff0000"]},"legend":{"title":null,"legendX":5,"legendY":6.3,"encode":{"symbols":{"update":{"shape":{"signal":"datum.value==='GR50 EV'?'M-1,0L1,0M-0.38,0A0.38,0.38 0 1,0 0.38,0A0.38,0.38 0 1,0 -0.38,0Z':'M-1,0L1,0M-0.38,-0.38L0.38,-0.38L0.38,0.38L-0.38,0.38Z'"},"fill":{"signal":"datum.value==='GR50 EV'?'#000000':'#ff0000'"},"stroke":{"signal":"datum.value==='GR50 EV'?'#000000':'#ff0000'"},"strokeWidth":{"value":1},"opacity":{"value":1}}}}}}},"layer":[{"mark":{"type":"line","strokeWidth":1}},{"transform":[{"filter":"datum.series!=='GR50 EV'"}],"mark":{"type":"point","filled":true,"size":18,"opacity":1,"shape":"square"}},{"transform":[{"filter":"datum.series==='GR50 EV'"}],"mark":{"type":"point","filled":true,"size":18,"opacity":1,"shape":"circle"}}]},
{"width":195,"height":60.2,"data":{"values":[{"t":"1/2 p<0.05"}]},"mark":{"type":"text","align":"center","baseline":"line-top","lineHeight":52},"encoding":{"text":{"field":"t"}}},

{"width":284,"height":65.6,"data":{"values":[{"t":"rpn-9(RNAi)"}]},"mark":{"type":"text","align":"center","baseline":"top","fontStyle":"italic"},"encoding":{"text":{"field":"t"}}},
{"width":165.4,"height":98.7,"data":{"name":"curves"},"transform":[{"filter":"datum.gene==='rpn-9'&&datum.trial===1"}],"title":{"text":"GR50 rpn-9 RNAi","dx":-21,"offset":-5.4},"encoding":{"x":{"field":"day","type":"quantitative","scale":{"domain":[0,5.47],"range":[0,124],"nice":false,"zero":false},"axis":{"values":[0,1,2,3,4,5],"title":"Age (days)"}},"y":{"field":"pct","type":"quantitative","scale":{"domain":[0,40],"range":[98.7,16],"nice":false},"axis":{"values":[0,10,20,30,40],"title":"% paralyzed"}},"color":{"field":"series","type":"nominal","scale":{"domain":["GR50 EV","GR50 rpn-9 RNAi"],"range":["#000000","#ff0000"]},"legend":{"title":null,"legendX":5,"legendY":16.3,"encode":{"symbols":{"update":{"shape":{"signal":"datum.value==='GR50 EV'?'M-1,0L1,0M-0.38,0A0.38,0.38 0 1,0 0.38,0A0.38,0.38 0 1,0 -0.38,0Z':'M-1,0L1,0M-0.38,-0.38L0.38,-0.38L0.38,0.38L-0.38,0.38Z'"},"fill":{"signal":"datum.value==='GR50 EV'?'#000000':'#ff0000'"},"stroke":{"signal":"datum.value==='GR50 EV'?'#000000':'#ff0000'"},"strokeWidth":{"value":1},"opacity":{"value":1}}}}}}},"layer":[{"mark":{"type":"line","strokeWidth":1}},{"transform":[{"filter":"datum.series!=='GR50 EV'"}],"mark":{"type":"point","filled":true,"size":18,"opacity":1,"shape":"square"}},{"transform":[{"filter":"datum.series==='GR50 EV'"}],"mark":{"type":"point","filled":true,"size":18,"opacity":1,"shape":"circle"}}]},
{"width":224.7,"height":91,"data":{"name":"curves"},"transform":[{"filter":"datum.gene==='rpn-9'&&datum.trial===2"}],"title":{"text":"GR50 rpn-9 RNAi","dx":-50.6,"offset":2.3},"encoding":{"x":{"field":"day","type":"quantitative","scale":{"domain":[0,5.47],"range":[0,124],"nice":false,"zero":false},"axis":{"values":[0,1,2,3,4,5],"title":"Age (days)"}},"y":{"field":"pct","type":"quantitative","scale":{"domain":[0,80],"range":[91,8.3],"nice":false},"axis":{"values":[0,20,40,60,80],"title":"% paralyzed"}},"color":{"field":"series","type":"nominal","scale":{"domain":["GR50 EV","GR50 rpn-9 RNAi"],"range":["#000000","#ff0000"]},"legend":{"title":null,"legendX":5,"legendY":8.6,"encode":{"symbols":{"update":{"shape":{"signal":"datum.value==='GR50 EV'?'M-1,0L1,0M-0.38,0A0.38,0.38 0 1,0 0.38,0A0.38,0.38 0 1,0 -0.38,0Z':'M-1,0L1,0M-0.38,-0.38L0.38,-0.38L0.38,0.38L-0.38,0.38Z'"},"fill":{"signal":"datum.value==='GR50 EV'?'#000000':'#ff0000'"},"stroke":{"signal":"datum.value==='GR50 EV'?'#000000':'#ff0000'"},"strokeWidth":{"value":1},"opacity":{"value":1}}}}}}},"layer":[{"mark":{"type":"line","strokeWidth":1}},{"transform":[{"filter":"datum.series!=='GR50 EV'"}],"mark":{"type":"point","filled":true,"size":18,"opacity":1,"shape":"square"}},{"transform":[{"filter":"datum.series==='GR50 EV'"}],"mark":{"type":"point","filled":true,"size":18,"opacity":1,"shape":"circle"}}]},
{"width":195,"height":64.6,"data":{"values":[{"t":"1/2 p<0.05"}]},"mark":{"type":"text","align":"center","baseline":"line-top","lineHeight":52},"encoding":{"text":{"field":"t"}}},

{"width":284,"height":70.6,"data":{"values":[{"t":"met-2(RNAi)"}]},"mark":{"type":"text","align":"center","baseline":"top","fontStyle":"italic"},"encoding":{"text":{"field":"t"}}},
{"width":165.4,"height":98.3,"data":{"name":"curves"},"transform":[{"filter":"datum.gene==='met-2'&&datum.trial===1"}],"title":{"text":"GR50 met-2 RNAi","dx":-21,"offset":-5},"encoding":{"x":{"field":"day","type":"quantitative","scale":{"domain":[0,5.47],"range":[0,124],"nice":false,"zero":false},"axis":{"values":[0,1,2,3,4,5],"title":"Age (days)"}},"y":{"field":"pct","type":"quantitative","scale":{"domain":[0,40],"range":[98.3,15.6],"nice":false},"axis":{"values":[0,10,20,30,40],"title":"% paralyzed"}},"color":{"field":"series","type":"nominal","scale":{"domain":["GR50 EV","GR50 met-2 RNAi"],"range":["#000000","#ff0000"]},"legend":{"title":null,"legendX":5,"legendY":15.9,"encode":{"symbols":{"update":{"shape":{"signal":"datum.value==='GR50 EV'?'M-1,0L1,0M-0.38,0A0.38,0.38 0 1,0 0.38,0A0.38,0.38 0 1,0 -0.38,0Z':'M-1,0L1,0M-0.38,-0.38L0.38,-0.38L0.38,0.38L-0.38,0.38Z'"},"fill":{"signal":"datum.value==='GR50 EV'?'#000000':'#ff0000'"},"stroke":{"signal":"datum.value==='GR50 EV'?'#000000':'#ff0000'"},"strokeWidth":{"value":1},"opacity":{"value":1}}}}}}},"layer":[{"mark":{"type":"line","strokeWidth":1}},{"transform":[{"filter":"datum.series!=='GR50 EV'"}],"mark":{"type":"point","filled":true,"size":18,"opacity":1,"shape":"square"}},{"transform":[{"filter":"datum.series==='GR50 EV'"}],"mark":{"type":"point","filled":true,"size":18,"opacity":1,"shape":"circle"}}]},
{"width":224.7,"height":93.3,"data":{"name":"curves"},"transform":[{"filter":"datum.gene==='met-2'&&datum.trial===2"}],"title":{"text":"GR50 met-2 RNAi","dx":-50.6,"offset":0},"encoding":{"x":{"field":"day","type":"quantitative","scale":{"domain":[0,5.47],"range":[0,124],"nice":false,"zero":false},"axis":{"values":[0,1,2,3,4,5],"title":"Age (days)"}},"y":{"field":"pct","type":"quantitative","scale":{"domain":[0,80],"range":[93.3,10.6],"nice":false},"axis":{"values":[0,20,40,60,80],"title":"% paralyzed"}},"color":{"field":"series","type":"nominal","scale":{"domain":["GR50 EV","GR50 met-2 RNAi"],"range":["#000000","#ff0000"]},"legend":{"title":null,"legendX":5,"legendY":10.9,"encode":{"symbols":{"update":{"shape":{"signal":"datum.value==='GR50 EV'?'M-1,0L1,0M-0.38,0A0.38,0.38 0 1,0 0.38,0A0.38,0.38 0 1,0 -0.38,0Z':'M-1,0L1,0M-0.38,-0.38L0.38,-0.38L0.38,0.38L-0.38,0.38Z'"},"fill":{"signal":"datum.value==='GR50 EV'?'#000000':'#ff0000'"},"stroke":{"signal":"datum.value==='GR50 EV'?'#000000':'#ff0000'"},"strokeWidth":{"value":1},"opacity":{"value":1}}}}}}},"layer":[{"mark":{"type":"line","strokeWidth":1}},{"transform":[{"filter":"datum.series!=='GR50 EV'"}],"mark":{"type":"point","filled":true,"size":18,"opacity":1,"shape":"square"}},{"transform":[{"filter":"datum.series==='GR50 EV'"}],"mark":{"type":"point","filled":true,"size":18,"opacity":1,"shape":"circle"}}]},
{"width":195,"height":69,"data":{"values":[{"t":"1/2 p<0.05"}]},"mark":{"type":"text","align":"center","baseline":"line-top","lineHeight":52},"encoding":{"text":{"field":"t"}}},

{"width":284,"height":76.4,"data":{"values":[{"t":"spop-1(RNAi)"}]},"mark":{"type":"text","align":"center","baseline":"top","fontStyle":"italic"},"encoding":{"text":{"field":"t"}}},
{"width":165.4,"height":98.7,"data":{"name":"curves"},"transform":[{"filter":"datum.gene==='spop-1'&&datum.trial===1"}],"title":{"text":"GR50 spop-1 RNAi","dx":-21,"offset":-5.4},"encoding":{"x":{"field":"day","type":"quantitative","scale":{"domain":[0,5.47],"range":[0,124],"nice":false,"zero":false},"axis":{"values":[0,1,2,3,4,5],"title":"Age (days)"}},"y":{"field":"pct","type":"quantitative","scale":{"domain":[0,40],"range":[98.7,16],"nice":false},"axis":{"values":[0,10,20,30,40],"title":"% paralyzed"}},"color":{"field":"series","type":"nominal","scale":{"domain":["GR50 EV","GR50 spop-1 RNAi"],"range":["#000000","#ff0000"]},"legend":{"title":null,"legendX":5,"legendY":16.3,"encode":{"symbols":{"update":{"shape":{"signal":"datum.value==='GR50 EV'?'M-1,0L1,0M-0.38,0A0.38,0.38 0 1,0 0.38,0A0.38,0.38 0 1,0 -0.38,0Z':'M-1,0L1,0M-0.38,-0.38L0.38,-0.38L0.38,0.38L-0.38,0.38Z'"},"fill":{"signal":"datum.value==='GR50 EV'?'#000000':'#ff0000'"},"stroke":{"signal":"datum.value==='GR50 EV'?'#000000':'#ff0000'"},"strokeWidth":{"value":1},"opacity":{"value":1}}}}}}},"layer":[{"mark":{"type":"line","strokeWidth":1}},{"transform":[{"filter":"datum.series!=='GR50 EV'"}],"mark":{"type":"point","filled":true,"size":18,"opacity":1,"shape":"square"}},{"transform":[{"filter":"datum.series==='GR50 EV'"}],"mark":{"type":"point","filled":true,"size":18,"opacity":1,"shape":"circle"}}]},
{"width":224.7,"height":96,"data":{"name":"curves"},"transform":[{"filter":"datum.gene==='spop-1'&&datum.trial===2"}],"title":{"text":"GR50 spop-1 RNAi","dx":-50.6,"offset":-2.7},"encoding":{"x":{"field":"day","type":"quantitative","scale":{"domain":[0,5.47],"range":[0,124],"nice":false,"zero":false},"axis":{"values":[0,1,2,3,4,5],"title":"Age (days)"}},"y":{"field":"pct","type":"quantitative","scale":{"domain":[0,80],"range":[96,13.3],"nice":false},"axis":{"values":[0,20,40,60,80],"title":"% paralyzed"}},"color":{"field":"series","type":"nominal","scale":{"domain":["GR50 EV","GR50 spop-1 RNAi"],"range":["#000000","#ff0000"]},"legend":{"title":null,"legendX":5,"legendY":13.6,"encode":{"symbols":{"update":{"shape":{"signal":"datum.value==='GR50 EV'?'M-1,0L1,0M-0.38,0A0.38,0.38 0 1,0 0.38,0A0.38,0.38 0 1,0 -0.38,0Z':'M-1,0L1,0M-0.38,-0.38L0.38,-0.38L0.38,0.38L-0.38,0.38Z'"},"fill":{"signal":"datum.value==='GR50 EV'?'#000000':'#ff0000'"},"stroke":{"signal":"datum.value==='GR50 EV'?'#000000':'#ff0000'"},"strokeWidth":{"value":1},"opacity":{"value":1}}}}}}},"layer":[{"mark":{"type":"line","strokeWidth":1}},{"transform":[{"filter":"datum.series!=='GR50 EV'"}],"mark":{"type":"point","filled":true,"size":18,"opacity":1,"shape":"square"}},{"transform":[{"filter":"datum.series==='GR50 EV'"}],"mark":{"type":"point","filled":true,"size":18,"opacity":1,"shape":"circle"}}]},
{"width":195,"height":74.2,"data":{"values":[{"t":"1/2 p<0.05"}]},"mark":{"type":"text","align":"center","baseline":"line-top","lineHeight":52},"encoding":{"text":{"field":"t"}}},

{"width":284,"height":81.4,"data":{"values":[{"t":"ima-3(RNAi)"}]},"mark":{"type":"text","align":"center","baseline":"top","fontStyle":"italic"},"encoding":{"text":{"field":"t"}}},
{"width":165.4,"height":98.3,"data":{"name":"curves"},"transform":[{"filter":"datum.gene==='ima-3'&&datum.trial===1"}],"title":{"text":"GR50 ima-3 RNAi","dx":-21,"offset":-5},"encoding":{"x":{"field":"day","type":"quantitative","scale":{"domain":[0,5.47],"range":[0,124],"nice":false,"zero":false},"axis":{"values":[0,1,2,3,4,5],"title":"Age (days)"}},"y":{"field":"pct","type":"quantitative","scale":{"domain":[0,40],"range":[98.3,15.6],"nice":false},"axis":{"values":[0,10,20,30,40],"title":"% paralyzed"}},"color":{"field":"series","type":"nominal","scale":{"domain":["GR50 EV","GR50 ima-3 RNAi"],"range":["#000000","#ff0000"]},"legend":{"title":null,"legendX":5,"legendY":15.9,"encode":{"symbols":{"update":{"shape":{"signal":"datum.value==='GR50 EV'?'M-1,0L1,0M-0.38,0A0.38,0.38 0 1,0 0.38,0A0.38,0.38 0 1,0 -0.38,0Z':'M-1,0L1,0M-0.38,-0.38L0.38,-0.38L0.38,0.38L-0.38,0.38Z'"},"fill":{"signal":"datum.value==='GR50 EV'?'#000000':'#ff0000'"},"stroke":{"signal":"datum.value==='GR50 EV'?'#000000':'#ff0000'"},"strokeWidth":{"value":1},"opacity":{"value":1}}}}}}},"layer":[{"mark":{"type":"line","strokeWidth":1}},{"transform":[{"filter":"datum.series!=='GR50 EV'"}],"mark":{"type":"point","filled":true,"size":18,"opacity":1,"shape":"square"}},{"transform":[{"filter":"datum.series==='GR50 EV'"}],"mark":{"type":"point","filled":true,"size":18,"opacity":1,"shape":"circle"}}]},
{"width":224.7,"height":98,"data":{"name":"curves"},"transform":[{"filter":"datum.gene==='ima-3'&&datum.trial===2"}],"title":{"text":"GR50 ima-3 RNAi","dx":-50.6,"offset":-4.7},"encoding":{"x":{"field":"day","type":"quantitative","scale":{"domain":[0,5.47],"range":[0,124],"nice":false,"zero":false},"axis":{"values":[0,1,2,3,4,5],"title":"Age (days)"}},"y":{"field":"pct","type":"quantitative","scale":{"domain":[0,80],"range":[98,15.3],"nice":false},"axis":{"values":[0,20,40,60,80],"title":"% paralyzed"}},"color":{"field":"series","type":"nominal","scale":{"domain":["GR50 EV","GR50 ima-3 RNAi"],"range":["#000000","#ff0000"]},"legend":{"title":null,"legendX":5,"legendY":15.6,"encode":{"symbols":{"update":{"shape":{"signal":"datum.value==='GR50 EV'?'M-1,0L1,0M-0.38,0A0.38,0.38 0 1,0 0.38,0A0.38,0.38 0 1,0 -0.38,0Z':'M-1,0L1,0M-0.38,-0.38L0.38,-0.38L0.38,0.38L-0.38,0.38Z'"},"fill":{"signal":"datum.value==='GR50 EV'?'#000000':'#ff0000'"},"stroke":{"signal":"datum.value==='GR50 EV'?'#000000':'#ff0000'"},"strokeWidth":{"value":1},"opacity":{"value":1}}}}}}},"layer":[{"mark":{"type":"line","strokeWidth":1}},{"transform":[{"filter":"datum.series!=='GR50 EV'"}],"mark":{"type":"point","filled":true,"size":18,"opacity":1,"shape":"square"}},{"transform":[{"filter":"datum.series==='GR50 EV'"}],"mark":{"type":"point","filled":true,"size":18,"opacity":1,"shape":"circle"}}]},
{"width":195,"height":78.6,"data":{"values":[{"t":"0/2 p<0.05"}]},"mark":{"type":"text","align":"center","baseline":"line-top","lineHeight":52},"encoding":{"text":{"field":"t"}}},

{"width":284,"height":87.2,"data":{"values":[{"t":"rsp-6(RNAi)"}]},"mark":{"type":"text","align":"center","baseline":"top","fontStyle":"italic"},"encoding":{"text":{"field":"t"}}},
{"width":165.4,"height":98.7,"data":{"name":"curves"},"transform":[{"filter":"datum.gene==='rsp-6'&&datum.trial===1"}],"title":{"text":"GR50 rsp-6 RNAi","dx":-21,"offset":-5.4},"encoding":{"x":{"field":"day","type":"quantitative","scale":{"domain":[0,5.47],"range":[0,124],"nice":false,"zero":false},"axis":{"values":[0,1,2,3,4,5],"title":"Age (days)"}},"y":{"field":"pct","type":"quantitative","scale":{"domain":[0,40],"range":[98.7,16],"nice":false},"axis":{"values":[0,10,20,30,40],"title":"% paralyzed"}},"color":{"field":"series","type":"nominal","scale":{"domain":["GR50 EV","GR50 rsp-6 RNAi"],"range":["#000000","#ff0000"]},"legend":{"title":null,"legendX":5,"legendY":16.3,"encode":{"symbols":{"update":{"shape":{"signal":"datum.value==='GR50 EV'?'M-1,0L1,0M-0.38,0A0.38,0.38 0 1,0 0.38,0A0.38,0.38 0 1,0 -0.38,0Z':'M-1,0L1,0M-0.38,-0.38L0.38,-0.38L0.38,0.38L-0.38,0.38Z'"},"fill":{"signal":"datum.value==='GR50 EV'?'#000000':'#ff0000'"},"stroke":{"signal":"datum.value==='GR50 EV'?'#000000':'#ff0000'"},"strokeWidth":{"value":1},"opacity":{"value":1}}}}}}},"layer":[{"mark":{"type":"line","strokeWidth":1}},{"transform":[{"filter":"datum.series!=='GR50 EV'"}],"mark":{"type":"point","filled":true,"size":18,"opacity":1,"shape":"square"}},{"transform":[{"filter":"datum.series==='GR50 EV'"}],"mark":{"type":"point","filled":true,"size":18,"opacity":1,"shape":"circle"}}]},
{"width":224.7,"height":101,"data":{"name":"curves"},"transform":[{"filter":"datum.gene==='rsp-6'&&datum.trial===2"}],"title":{"text":"GR50 rsp-6 RNAi","dx":-50.6,"offset":-7.7},"encoding":{"x":{"field":"day","type":"quantitative","scale":{"domain":[0,5.47],"range":[0,124],"nice":false,"zero":false},"axis":{"values":[0,1,2,3,4,5],"title":"Age (days)"}},"y":{"field":"pct","type":"quantitative","scale":{"domain":[0,80],"range":[101,18.3],"nice":false},"axis":{"values":[0,20,40,60,80],"title":"% paralyzed"}},"color":{"field":"series","type":"nominal","scale":{"domain":["GR50 EV","GR50 rsp-6 RNAi"],"range":["#000000","#ff0000"]},"legend":{"title":null,"legendX":5,"legendY":18.6,"encode":{"symbols":{"update":{"shape":{"signal":"datum.value==='GR50 EV'?'M-1,0L1,0M-0.38,0A0.38,0.38 0 1,0 0.38,0A0.38,0.38 0 1,0 -0.38,0Z':'M-1,0L1,0M-0.38,-0.38L0.38,-0.38L0.38,0.38L-0.38,0.38Z'"},"fill":{"signal":"datum.value==='GR50 EV'?'#000000':'#ff0000'"},"stroke":{"signal":"datum.value==='GR50 EV'?'#000000':'#ff0000'"},"strokeWidth":{"value":1},"opacity":{"value":1}}}}}}},"layer":[{"mark":{"type":"line","strokeWidth":1}},{"transform":[{"filter":"datum.series!=='GR50 EV'"}],"mark":{"type":"point","filled":true,"size":18,"opacity":1,"shape":"square"}},{"transform":[{"filter":"datum.series==='GR50 EV'"}],"mark":{"type":"point","filled":true,"size":18,"opacity":1,"shape":"circle"}}]},
{"width":195,"height":83.8,"data":{"values":[{"t":"1/2 p<0.05"}]},"mark":{"type":"text","align":"center","baseline":"line-top","lineHeight":52},"encoding":{"text":{"field":"t"}}},

{"width":284,"height":87.6,"data":{"values":[{"t":"pis-1(RNAi)"}]},"mark":{"type":"text","align":"center","baseline":"top","fontStyle":"italic"},"encoding":{"text":{"field":"t"}}},
{"width":165.4,"height":96.3,"data":{"name":"curves"},"transform":[{"filter":"datum.gene==='pis-1'&&datum.trial===1"}],"title":{"text":"GR50 pis-1 RNAi","dx":-21,"offset":-3},"encoding":{"x":{"field":"day","type":"quantitative","scale":{"domain":[0,5.47],"range":[0,124],"nice":false,"zero":false},"axis":{"values":[0,1,2,3,4,5],"title":"Age (days)"}},"y":{"field":"pct","type":"quantitative","scale":{"domain":[0,40],"range":[96.3,13.6],"nice":false},"axis":{"values":[0,10,20,30,40],"title":"% paralyzed"}},"color":{"field":"series","type":"nominal","scale":{"domain":["GR50 EV","GR50 pis-1 RNAi"],"range":["#000000","#ff0000"]},"legend":{"title":null,"legendX":5,"legendY":13.9,"encode":{"symbols":{"update":{"shape":{"signal":"datum.value==='GR50 EV'?'M-1,0L1,0M-0.38,0A0.38,0.38 0 1,0 0.38,0A0.38,0.38 0 1,0 -0.38,0Z':'M-1,0L1,0M-0.38,-0.38L0.38,-0.38L0.38,0.38L-0.38,0.38Z'"},"fill":{"signal":"datum.value==='GR50 EV'?'#000000':'#ff0000'"},"stroke":{"signal":"datum.value==='GR50 EV'?'#000000':'#ff0000'"},"strokeWidth":{"value":1},"opacity":{"value":1}}}}}}},"layer":[{"mark":{"type":"line","strokeWidth":1}},{"transform":[{"filter":"datum.series!=='GR50 EV'"}],"mark":{"type":"point","filled":true,"size":18,"opacity":1,"shape":"square"}},{"transform":[{"filter":"datum.series==='GR50 EV'"}],"mark":{"type":"point","filled":true,"size":18,"opacity":1,"shape":"circle"}}]},
{"width":224.7,"height":100.7,"data":{"name":"curves"},"transform":[{"filter":"datum.gene==='pis-1'&&datum.trial===2"}],"title":{"text":"GR50 pis-1 RNAi","dx":-50.6,"offset":-7.4},"encoding":{"x":{"field":"day","type":"quantitative","scale":{"domain":[0,5.47],"range":[0,124],"nice":false,"zero":false},"axis":{"values":[0,1,2,3,4,5],"title":"Age (days)"}},"y":{"field":"pct","type":"quantitative","scale":{"domain":[0,80],"range":[100.7,18],"nice":false},"axis":{"values":[0,20,40,60,80],"title":"% paralyzed"}},"color":{"field":"series","type":"nominal","scale":{"domain":["GR50 EV","GR50 pis-1 RNAi"],"range":["#000000","#ff0000"]},"legend":{"title":null,"legendX":5,"legendY":18.3,"encode":{"symbols":{"update":{"shape":{"signal":"datum.value==='GR50 EV'?'M-1,0L1,0M-0.38,0A0.38,0.38 0 1,0 0.38,0A0.38,0.38 0 1,0 -0.38,0Z':'M-1,0L1,0M-0.38,-0.38L0.38,-0.38L0.38,0.38L-0.38,0.38Z'"},"fill":{"signal":"datum.value==='GR50 EV'?'#000000':'#ff0000'"},"stroke":{"signal":"datum.value==='GR50 EV'?'#000000':'#ff0000'"},"strokeWidth":{"value":1},"opacity":{"value":1}}}}}}},"layer":[{"mark":{"type":"line","strokeWidth":1}},{"transform":[{"filter":"datum.series!=='GR50 EV'"}],"mark":{"type":"point","filled":true,"size":18,"opacity":1,"shape":"square"}},{"transform":[{"filter":"datum.series==='GR50 EV'"}],"mark":{"type":"point","filled":true,"size":18,"opacity":1,"shape":"circle"}}]},
{"width":195,"height":83.6,"data":{"values":[{"t":"0/2 p<0.05"}]},"mark":{"type":"text","align":"center","baseline":"line-top","lineHeight":52},"encoding":{"text":{"field":"t"}}},

{"width":284,"height":88.6,"data":{"values":[{"t":"ergo-1(RNAi)"}]},"mark":{"type":"text","align":"center","baseline":"top","fontStyle":"italic"},"encoding":{"text":{"field":"t"}}},
{"width":165.4,"height":94.3,"data":{"name":"curves"},"transform":[{"filter":"datum.gene==='ergo-1'&&datum.trial===1"}],"title":{"text":"GR50 ergo-1 RNAi","dx":-21,"offset":-1},"encoding":{"x":{"field":"day","type":"quantitative","scale":{"domain":[0,5.47],"range":[0,124],"nice":false,"zero":false},"axis":{"values":[0,1,2,3,4,5],"title":"Age (days)"}},"y":{"field":"pct","type":"quantitative","scale":{"domain":[0,40],"range":[94.3,11.6],"nice":false},"axis":{"values":[0,10,20,30,40],"title":"% paralyzed"}},"color":{"field":"series","type":"nominal","scale":{"domain":["GR50 EV","GR50 ergo-1 RNAi"],"range":["#000000","#ff0000"]},"legend":{"title":null,"legendX":5,"legendY":11.9,"encode":{"symbols":{"update":{"shape":{"signal":"datum.value==='GR50 EV'?'M-1,0L1,0M-0.38,0A0.38,0.38 0 1,0 0.38,0A0.38,0.38 0 1,0 -0.38,0Z':'M-1,0L1,0M-0.38,-0.38L0.38,-0.38L0.38,0.38L-0.38,0.38Z'"},"fill":{"signal":"datum.value==='GR50 EV'?'#000000':'#ff0000'"},"stroke":{"signal":"datum.value==='GR50 EV'?'#000000':'#ff0000'"},"strokeWidth":{"value":1},"opacity":{"value":1}}}}}}},"layer":[{"mark":{"type":"line","strokeWidth":1}},{"transform":[{"filter":"datum.series!=='GR50 EV'"}],"mark":{"type":"point","filled":true,"size":18,"opacity":1,"shape":"square"}},{"transform":[{"filter":"datum.series==='GR50 EV'"}],"mark":{"type":"point","filled":true,"size":18,"opacity":1,"shape":"circle"}}]},
{"width":224.7,"height":100.6,"data":{"name":"curves"},"transform":[{"filter":"datum.gene==='ergo-1'&&datum.trial===2"}],"title":{"text":"GR50 ergo-1 RNAi","dx":-50.6,"offset":-7.3},"encoding":{"x":{"field":"day","type":"quantitative","scale":{"domain":[0,5.47],"range":[0,124],"nice":false,"zero":false},"axis":{"values":[0,1,2,3,4,5],"title":"Age (days)"}},"y":{"field":"pct","type":"quantitative","scale":{"domain":[0,80],"range":[100.6,17.9],"nice":false},"axis":{"values":[0,20,40,60,80],"title":"% paralyzed"}},"color":{"field":"series","type":"nominal","scale":{"domain":["GR50 EV","GR50 ergo-1 RNAi"],"range":["#000000","#ff0000"]},"legend":{"title":null,"legendX":5,"legendY":18.2,"encode":{"symbols":{"update":{"shape":{"signal":"datum.value==='GR50 EV'?'M-1,0L1,0M-0.38,0A0.38,0.38 0 1,0 0.38,0A0.38,0.38 0 1,0 -0.38,0Z':'M-1,0L1,0M-0.38,-0.38L0.38,-0.38L0.38,0.38L-0.38,0.38Z'"},"fill":{"signal":"datum.value==='GR50 EV'?'#000000':'#ff0000'"},"stroke":{"signal":"datum.value==='GR50 EV'?'#000000':'#ff0000'"},"strokeWidth":{"value":1},"opacity":{"value":1}}}}}}},"layer":[{"mark":{"type":"line","strokeWidth":1}},{"transform":[{"filter":"datum.series!=='GR50 EV'"}],"mark":{"type":"point","filled":true,"size":18,"opacity":1,"shape":"square"}},{"transform":[{"filter":"datum.series==='GR50 EV'"}],"mark":{"type":"point","filled":true,"size":18,"opacity":1,"shape":"circle"}}]},
{"width":195,"height":84,"data":{"values":[{"t":"1/2 p<0.05"}]},"mark":{"type":"text","align":"center","baseline":"line-top","lineHeight":52},"encoding":{"text":{"field":"t"}}},

{"width":284,"height":89.8,"data":{"values":[{"t":"utx-1(RNAi)"}]},"mark":{"type":"text","align":"center","baseline":"top","fontStyle":"italic"},"encoding":{"text":{"field":"t"}}},
{"width":165.4,"height":100.7,"data":{"name":"curves"},"transform":[{"filter":"datum.gene==='utx-1'&&datum.trial===1"}],"title":{"text":"GR50 utx-1 RNAi","dx":-21,"offset":-7.4},"encoding":{"x":{"field":"day","type":"quantitative","scale":{"domain":[0,5.47],"range":[0,124],"nice":false,"zero":false},"axis":{"values":[0,1,2,3,4,5],"title":"Age (days)"}},"y":{"field":"pct","type":"quantitative","scale":{"domain":[0,40],"range":[100.7,18],"nice":false},"axis":{"values":[0,10,20,30,40],"title":"% paralyzed"}},"color":{"field":"series","type":"nominal","scale":{"domain":["GR50 EV","GR50 utx-1 RNAi"],"range":["#000000","#ff0000"]},"legend":{"title":null,"legendX":5,"legendY":18.3,"encode":{"symbols":{"update":{"shape":{"signal":"datum.value==='GR50 EV'?'M-1,0L1,0M-0.38,0A0.38,0.38 0 1,0 0.38,0A0.38,0.38 0 1,0 -0.38,0Z':'M-1,0L1,0M-0.38,-0.38L0.38,-0.38L0.38,0.38L-0.38,0.38Z'"},"fill":{"signal":"datum.value==='GR50 EV'?'#000000':'#ff0000'"},"stroke":{"signal":"datum.value==='GR50 EV'?'#000000':'#ff0000'"},"strokeWidth":{"value":1},"opacity":{"value":1}}}}}}},"layer":[{"mark":{"type":"line","strokeWidth":1}},{"transform":[{"filter":"datum.series!=='GR50 EV'"}],"mark":{"type":"point","filled":true,"size":18,"opacity":1,"shape":"square"}},{"transform":[{"filter":"datum.series==='GR50 EV'"}],"mark":{"type":"point","filled":true,"size":18,"opacity":1,"shape":"circle"}}]},
{"width":224.7,"height":100.7,"data":{"name":"curves"},"transform":[{"filter":"datum.gene==='utx-1'&&datum.trial===2"}],"title":{"text":"GR50 utx-1 RNAi","dx":-58,"offset":-7.4},"encoding":{"x":{"field":"day","type":"quantitative","scale":{"domain":[0,5.47],"range":[-7.7,117.5],"nice":false,"zero":false},"axis":{"values":[0,1,2,3,4,5],"title":"Age (days)"}},"y":{"field":"pct","type":"quantitative","scale":{"domain":[0,80],"range":[100.7,18],"nice":false},"axis":{"values":[0,20,40,60,80],"title":"% paralyzed","offset":7.7}},"color":{"field":"series","type":"nominal","scale":{"domain":["GR50 EV","GR50 utx-1 RNAi"],"range":["#000000","#ff0000"]},"legend":{"title":null,"legendX":-4,"legendY":18.3,"encode":{"symbols":{"update":{"shape":{"signal":"datum.value==='GR50 EV'?'M-1,0L1,0M-0.38,0A0.38,0.38 0 1,0 0.38,0A0.38,0.38 0 1,0 -0.38,0Z':'M-1,0L1,0M-0.38,-0.38L0.38,-0.38L0.38,0.38L-0.38,0.38Z'"},"fill":{"signal":"datum.value==='GR50 EV'?'#000000':'#ff0000'"},"stroke":{"signal":"datum.value==='GR50 EV'?'#000000':'#ff0000'"},"strokeWidth":{"value":1},"opacity":{"value":1}}}}}}},"layer":[{"mark":{"type":"line","strokeWidth":1}},{"transform":[{"filter":"datum.series!=='GR50 EV'"}],"mark":{"type":"point","filled":true,"size":18,"opacity":1,"shape":"square"}},{"transform":[{"filter":"datum.series==='GR50 EV'"}],"mark":{"type":"point","filled":true,"size":18,"opacity":1,"shape":"circle"}}]},
{"width":195,"height":84.6,"data":{"values":[{"t":"1/2 p<0.05"}]},"mark":{"type":"text","align":"center","baseline":"line-top","lineHeight":52},"encoding":{"text":{"field":"t"}}}
]}
]
}
